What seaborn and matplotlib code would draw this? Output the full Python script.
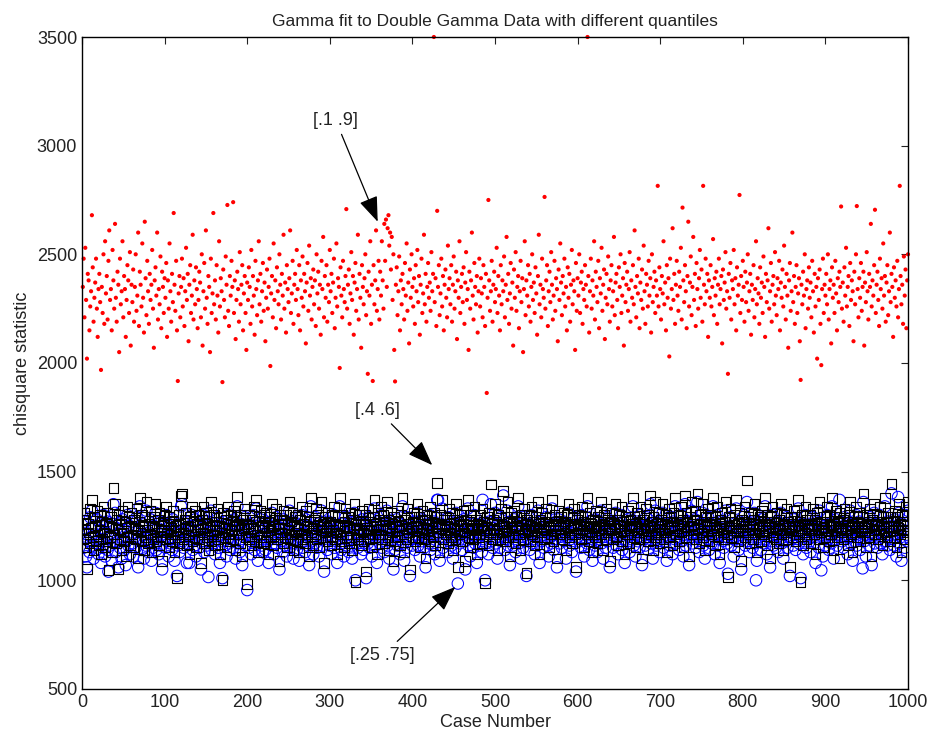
import numpy as np
import seaborn as sns
import matplotlib.pyplot as plt

# chisquare statistic per case, one list per quantile pair (cases 1..1000)
red_q10_90 = [
    2350, 2480, 2210, 2530, 2290, 2020, 2410, 2380, 2150, 2260, 2330, 2680, 2440, 2190, 2300, 2370, 2480, 2250, 2120, 2340,
    2410, 2280, 1968, 2350, 2230, 2500, 2180, 2560, 2320, 2400, 2200, 2470, 2610, 2290, 2340, 2150, 2520, 2380, 2250, 2640,
    2300, 2190, 2420, 2360, 2050, 2480, 2270, 2330, 2560, 2210, 2400, 2340, 2120, 2290, 2450, 2380, 2230, 2510, 2080, 2360,
    2280, 2430, 2190, 2350, 2500, 2240, 2310, 2600, 2170, 2420, 2360, 2260, 2550, 2300, 2140, 2650, 2390, 2220, 2470, 2330,
    2180, 2410, 2290, 2360, 2520, 2250, 2070, 2380, 2440, 2310, 2600, 2200, 2340, 2270, 2490, 2160, 2420, 2350, 2230, 2390,
    2300, 2460, 2120, 2380, 2250, 2550, 2330, 2190, 2410, 2280, 2690, 2360, 2240, 2470, 2150, 1917, 2320, 2400, 2210, 2350,
    2480, 2260, 2390, 2170, 2330, 2530, 2290, 2410, 2100, 2360, 2450, 2230, 2310, 2590, 2200, 2380, 2270, 2440, 2340, 2160,
    2290, 2420, 2370, 2210, 2500, 2080, 2330, 2460, 2250, 2610, 2300, 2180, 2400, 2350, 2050, 2480, 2230, 2320, 2690, 2270,
    2380, 2200, 2450, 2310, 2140, 2560, 2260, 2390, 2330, 1912, 2430, 2290, 2210, 2490, 2360, 2727, 2240, 2170, 2400, 2310,
    2470, 2350, 2740, 2230, 2380, 2110, 2290, 2420, 2340, 2190, 2510, 2270, 2360, 2450, 2150, 2320, 2400, 2230, 2060, 2370,
    2290, 2440, 2350, 2180, 2520, 2260, 2400, 2310, 2130, 2470, 2340, 2220, 2380, 2560, 2270, 2410, 2190, 2330, 2460, 2240,
    2370, 2100, 2300, 2430, 2250, 2350, 2480, 1986, 2320, 2400, 2210, 2550, 2290, 2380, 2160, 2440, 2330, 2270, 2500, 2360,
    2200, 2410, 2310, 2590, 2250, 2370, 2140, 2450, 2340, 2280, 2390, 2610, 2230, 2320, 2470, 2180, 2360, 2410, 2290, 2520,
    2340, 2220, 2450, 2150, 2380, 2300, 2490, 2260, 2410, 2330, 2090, 2370, 2460, 2240, 2540, 2310, 2390, 2200, 2350, 2430,
    2270, 2380, 2170, 2500, 2320, 2420, 2250, 2360, 2130, 2470, 2340, 2580, 2210, 2400, 2300, 2450, 2190, 2360, 2280, 2520,
    2330, 2410, 2230, 2370, 2480, 2160, 2300, 2550, 2260, 2390, 2350, 1977, 2440, 2310, 2210, 2470, 2340, 2280, 2400, 2708,
    2250, 2360, 2430, 2180, 2320, 2510, 2290, 2400, 2130, 2370, 2460, 2240, 2340, 2590, 2200, 2410, 2300, 2070, 2450, 2350,
    2270, 2390, 2500, 2220, 2330, 1950, 2420, 2310, 2560, 2180, 2360, 1917, 2450, 2270, 2380, 2610, 2240, 2340, 2470, 2200,
    2420, 2310, 2560, 2380, 2250, 2640, 2470, 2660, 2350, 2620, 2680, 2540, 2600, 2430, 2580, 2290, 2500, 2060, 1915, 2360,
    2440, 2220, 2330, 2490, 2150, 2380, 2270, 2410, 2340, 2200, 2460, 2310, 2550, 2240, 2370, 2090, 2430, 2300, 2500, 2350,
    2260, 2390, 2180, 2450, 2330, 2520, 2280, 2400, 2130, 2360, 2480, 2230, 2320, 2590, 2270, 2410, 2190, 2350, 2460, 2300,
    2370, 2240, 2510, 2330, 2410, 3500, 2280, 2390, 2170, 2700, 2350, 2450, 2220, 2320, 2480, 2260, 2400, 2150, 2360, 2430,
    2300, 2210, 2540, 2340, 2390, 2270, 2450, 2190, 2360, 2490, 2250, 2330, 2420, 2110, 2380, 2300, 2560, 2230, 2350, 2410,
    2280, 2440, 2180, 2370, 2510, 2290, 2340, 2060, 2420, 2250, 2380, 2600, 2310, 2200, 2460, 2350, 2270, 2400, 2140, 2330,
    2480, 2260, 2390, 2320, 2210, 2450, 2350, 2170, 2410, 1862, 2300, 2750, 2380, 2240, 2330, 2470, 2190, 2360, 2420, 2280,
    2340, 2530, 2230, 2400, 2310, 2150, 2450, 2270, 2380, 2330, 2490, 2210, 2360, 2580, 2290, 2410, 2180, 2320, 2460, 2250,
    2370, 2080, 2430, 2300, 2510, 2240, 2350, 2400, 2160, 2330, 2470, 2280, 2390, 2050, 2340, 2560, 2220, 2380, 2310, 2450,
    2260, 2410, 2190, 2350, 2500, 2290, 2370, 2230, 2440, 2320, 2130, 2400, 2590, 2270, 2360, 2210, 2480, 2340, 2300, 2764,
    2250, 2380, 2450, 2170, 2330, 2420, 2280, 2510, 2360, 2200, 2310, 2470, 2240, 2390, 2340, 2100, 2430, 2290, 2550, 2370,
    2220, 2400, 2320, 2480, 2260, 2350, 2150, 2440, 2300, 2410, 2190, 2360, 2520, 2270, 2380, 2330, 2060, 2460, 2240, 2390,
    2310, 2500, 2230, 2370, 2420, 2180, 2340, 2290, 2450, 2360, 2260, 3500, 2400, 2140, 2330, 2480, 2250, 2380, 2310, 2560,
    2200, 2420, 2350, 2280, 2470, 2160, 2390, 2320, 2530, 2240, 2360, 2430, 2110, 2300, 2410, 2270, 2490, 2340, 2190, 2380,
    2450, 2260, 2330, 2580, 2220, 2370, 2410, 2290, 2160, 2440, 2350, 2500, 2230, 2310, 2390, 2080, 2460, 2280, 2360, 2420,
    2240, 2340, 2510, 2190, 2380, 2300, 2450, 2270, 2610, 2350, 2210, 2400, 2320, 2480, 2160, 2370, 2290, 2430, 2250, 2540,
    2330, 2180, 2410, 2360, 2260, 2470, 2310, 2390, 2140, 2500, 2280, 2350, 2420, 2230, 2380, 2310, 2815, 2260, 2440, 2340,
    2200, 2400, 2320, 2560, 2270, 2370, 2150, 2450, 2300, 2390, 2030, 2480, 2250, 2340, 2620, 2290, 2410, 2180, 2360, 2470,
    2310, 2240, 2420, 2350, 2530, 2200, 2715, 2380, 2280, 2450, 2330, 2160, 2400, 2650, 2260, 2370, 2490, 2220, 2350, 2580,
    2290, 2410, 2170, 2460, 2340, 2250, 2390, 2520, 2300, 2430, 2190, 2815, 2360, 2270, 2480, 2330, 2410, 2120, 2380, 2300,
    2450, 2260, 2350, 2570, 2220, 2390, 2310, 2420, 2180, 2360, 2480, 2270, 2340, 2400, 2090, 2430, 2290, 2370, 2510, 2250,
    2330, 1950, 2410, 2300, 2460, 2200, 2380, 2340, 2520, 2270, 2390, 2150, 2440, 2310, 2360, 2773, 2230, 2400, 2290, 2470,
    2350, 2190, 2420, 2280, 2370, 2500, 2240, 2330, 2410, 2130, 2360, 2290, 2450, 2210, 2340, 2560, 2270, 2390, 2320, 2180,
    2440, 2300, 2370, 2230, 2490, 2350, 2120, 2410, 2280, 2380, 2620, 2250, 2330, 2460, 2190, 2360, 2400, 2270, 2510, 2310,
    2220, 2390, 2340, 2470, 2150, 2370, 2300, 2430, 2260, 2540, 2350, 2200, 2410, 2310, 2070, 2380, 2460, 2240, 2330, 2600,
    2280, 2400, 2180, 2350, 2450, 2230, 2320, 2390, 2100, 1922, 2360, 2270, 2420, 2310, 2500, 2160, 2340, 2380, 2250, 2440,
    2300, 2370, 2210, 2470, 2330, 2140, 2410, 2260, 2350, 2020, 2390, 2290, 2430, 2180, 1990, 2340, 2480, 2230, 2360, 2310,
    2410, 2270, 2500, 2200, 2340, 2380, 2090, 2440, 2300, 2360, 2230, 2470, 2320, 2150, 2390, 2280, 2420, 2350, 2720, 2250,
    2370, 2190, 2440, 2310, 2530, 2260, 2350, 2400, 2170, 2460, 2290, 2380, 2330, 2100, 2420, 2270, 2500, 2722, 2340, 2210,
    2390, 2300, 2460, 2240, 2350, 2420, 2080, 2370, 2280, 2510, 2330, 2200, 2410, 2350, 2640, 2260, 2380, 2310, 2450, 2705,
    2230, 2360, 2420, 2290, 2170, 2480, 2340, 2390, 2250, 2550, 2310, 2400, 2190, 2370, 2450, 2220, 2330, 2600, 2280, 2410,
    2350, 2120, 2440, 2300, 2380, 2260, 2470, 2210, 2340, 2815, 2400, 2270, 2360, 2180, 2490, 2310, 2430, 2160, 2380, 2500,
]

black_q40_60 = [
    1280, 1190, 1310, 1230, 1150, 1052, 1260, 1220, 1170, 1330, 1240, 1370, 1200, 1140, 1290, 1250, 1180, 1320, 1210, 1160,
    1230, 1300, 1120, 1270, 1190, 1340, 1220, 1150, 1260, 1310, 1180, 1047, 1250, 1200, 1290, 1130, 1240, 1425, 1210, 1350,
    1170, 1280, 1230, 1052, 1300, 1190, 1260, 1140, 1320, 1220, 1180, 1270, 1110, 1240, 1340, 1200, 1290, 1160, 1250, 1310,
    1210, 1150, 1280, 1240, 1190, 1330, 1230, 1100, 1270, 1380, 1220, 1180, 1300, 1250, 1140, 1290, 1200, 1360, 1230, 1170,
    1260, 1210, 1320, 1130, 1250, 1190, 1290, 1240, 1350, 1180, 1220, 1280, 1160, 1310, 1200, 1250, 1090, 1270, 1230, 1300,
    1190, 1340, 1220, 1260, 1150, 1290, 1210, 1240, 1180, 1320, 1270, 1130, 1230, 1250, 1010, 1200, 1300, 1170, 1260, 1388,
    1400, 1220, 1190, 1280, 1240, 1310, 1160, 1250, 1210, 1120, 1290, 1230, 1340, 1180, 1270, 1200, 1320, 1150, 1260, 1230,
    1300, 1190, 1250, 1080, 1280, 1220, 1340, 1170, 1240, 1310, 1200, 1260, 1140, 1290, 1230, 1360, 1180, 1250, 1210, 1300,
    1160, 1270, 1230, 1330, 1190, 1250, 1120, 1290, 1220, 1000, 1310, 1240, 1200, 1280, 1150, 1260, 1340, 1210, 1180, 1300,
    1230, 1270, 1190, 1320, 1250, 1140, 1290, 1383, 1210, 1260, 1170, 1300, 1230, 1110, 1280, 1240, 1330, 1200, 1260, 983,
    1250, 1190, 1300, 1220, 1160, 1280, 1240, 1340, 1180, 1270, 1370, 1210, 1130, 1290, 1230, 1320, 1200, 1250, 1170, 1300,
    1240, 1180, 1310, 1220, 1270, 1120, 1290, 1230, 1200, 1350, 1250, 1160, 1280, 1210, 1330, 1190, 1260, 1240, 1090, 1300,
    1220, 1280, 1170, 1320, 1240, 1200, 1300, 1150, 1260, 1230, 1360, 1190, 1270, 1210, 1310, 1140, 1250, 1290, 1220, 1180,
    1300, 1240, 1130, 1280, 1210, 1340, 1190, 1260, 1230, 1170, 1320, 1250, 1200, 1290, 1110, 1270, 1380, 1220, 1240, 1160,
    1280, 1210, 1330, 1190, 1250, 1300, 1150, 1270, 1230, 1360, 1200, 1260, 1080, 1290, 1220, 1240, 1180, 1310, 1250, 1200,
    1270, 1160, 1300, 1230, 1340, 1190, 1260, 1220, 1120, 1290, 1250, 1380, 1210, 1180, 1300, 1240, 1150, 1270, 1330, 1200,
    1250, 1290, 1170, 1230, 1310, 1200, 1140, 1280, 1240, 1350, 993, 1260, 1210, 1190, 1300, 1230, 1270, 1160, 1320, 1220,
    1180, 1260, 1300, 1040, 1240, 1210, 1330, 1190, 1270, 1230, 1150, 1290, 1250, 1370, 1200, 1260, 1120, 1310, 1230, 1280,
    1210, 1340, 1190, 1250, 1300, 1170, 1270, 1230, 1360, 1200, 1280, 1140, 1240, 1310, 1220, 1260, 1090, 1290, 1180, 1250,
    1320, 1200, 1270, 1230, 1160, 1300, 1250, 1380, 1210, 1130, 1280, 1240, 1190, 1330, 1260, 1220, 1050, 1290, 1240, 1200,
    1270, 1310, 1180, 1250, 1230, 1350, 1200, 1290, 1150, 1260, 1220, 1320, 1240, 1190, 1280, 1100, 1300, 1230, 1260, 1210,
    1340, 1180, 1270, 1240, 1200, 1310, 1160, 1250, 1290, 1447, 1220, 1260, 1130, 1300, 1240, 1370, 1190, 1280, 1230, 1210,
    1290, 1250, 1170, 1330, 1220, 1260, 1200, 1310, 1140, 1280, 1240, 1190, 1350, 1230, 1060, 1270, 1210, 1300, 1250, 1180,
    1260, 1320, 1220, 1090, 1280, 1240, 1370, 1200, 1270, 1150, 1300, 1230, 1250, 1190, 1340, 1210, 1280, 1120, 1260, 1240,
    1200, 1300, 1250, 1170, 1330, 1230, 1270, 987, 1210, 1290, 1240, 1160, 1310, 1220, 1440, 1260, 1190, 1280, 1230, 1350,
    1210, 1270, 1140, 1300, 1240, 1190, 1330, 1260, 1220, 1410, 1250, 1180, 1290, 1230, 1360, 1200, 1270, 1110, 1310, 1240,
    1260, 1200, 1320, 1230, 1170, 1290, 1250, 1380, 1210, 1270, 1140, 1300, 1240, 1190, 1330, 1220, 1260, 1034, 1280, 1230,
    1300, 1180, 1250, 1340, 1210, 1270, 1230, 1160, 1290, 1240, 1200, 1360, 1260, 1120, 1280, 1220, 1310, 1250, 1190, 1270,
    1230, 1330, 1200, 1260, 1150, 1290, 1240, 1210, 1370, 1250, 1180, 1300, 1230, 1270, 1100, 1260, 1320, 1210, 1240, 1290,
    1190, 1250, 1310, 1220, 1270, 1140, 1300, 1240, 1350, 1200, 1260, 1230, 1170, 1290, 1250, 1330, 1210, 1060, 1280, 1240,
    1300, 1220, 1260, 1190, 1340, 1230, 1270, 1150, 1290, 1250, 1210, 1380, 1240, 1180, 1310, 1260, 1220, 1130, 1280, 1240,
    1200, 1320, 1250, 1170, 1290, 1230, 1270, 1360, 1210, 1260, 1140, 1300, 1240, 1190, 1330, 1220, 1280, 1250, 1090, 1270,
    1230, 1310, 1190, 1260, 1240, 1350, 1200, 1280, 1160, 1300, 1250, 1220, 1340, 1180, 1270, 1230, 1120, 1290, 1250, 1210,
    1320, 1240, 1170, 1280, 1230, 1260, 1380, 1200, 1290, 1150, 1250, 1310, 1220, 1270, 1190, 1340, 1240, 1100, 1280, 1230,
    1260, 1200, 1330, 1240, 1180, 1300, 1250, 1390, 1210, 1270, 1140, 1290, 1230, 1360, 1200, 1260, 1220, 1310, 1170, 1250,
    1280, 1230, 1350, 1190, 1260, 1220, 1300, 1130, 1270, 1240, 1330, 1200, 1290, 1250, 1160, 1310, 1230, 1380, 1210, 1270,
    1240, 1300, 1180, 1260, 1340, 1220, 1280, 1150, 1250, 1390, 1200, 1310, 1270, 1230, 1110, 1290, 1250, 1360, 1210, 1260,
    1230, 1320, 1190, 1280, 1400, 1240, 1170, 1300, 1260, 1220, 1350, 1200, 1270, 1140, 1290, 1250, 1230, 1330, 1180, 1260,
    1300, 1210, 1270, 1380, 1240, 1160, 1290, 1230, 1340, 1200, 1260, 1120, 1280, 1250, 1310, 1220, 1190, 1270, 1360, 1240,
    1210, 1015, 1290, 1250, 1330, 1200, 1270, 1230, 1150, 1300, 1240, 1370, 1220, 1260, 1180, 1310, 1250, 1090, 1280, 1230,
    1270, 1340, 1200, 1260, 1460, 1220, 1290, 1170, 1250, 1310, 1230, 1190, 1280, 1350, 1210, 1260, 1130, 1300, 1240, 1220,
    1290, 1180, 1320, 1250, 1210, 1270, 1380, 1230, 1160, 1300, 1240, 1260, 1100, 1290, 1220, 1340, 1200, 1270, 1250, 1190,
    1310, 1240, 1170, 1280, 1230, 1350, 1210, 1260, 1140, 1300, 1250, 1220, 1330, 1190, 1270, 1240, 1060, 1290, 1230, 1260,
    1200, 1320, 1250, 1180, 1290, 1230, 1370, 1210, 1270, 993, 1240, 1300, 1160, 1260, 1220, 1340, 1190, 1280, 1250, 1230,
    1300, 1170, 1260, 1240, 1330, 1210, 1280, 1120, 1250, 1310, 1230, 1190, 1360, 1270, 1220, 1260, 1150, 1290, 1240, 1200,
    1270, 1340, 1230, 1180, 1300, 1250, 1210, 1380, 1260, 1140, 1290, 1230, 1320, 1200, 1270, 1250, 1100, 1310, 1240, 1220,
    1280, 1190, 1330, 1250, 1230, 1270, 1160, 1300, 1240, 1360, 1210, 1260, 1130, 1290, 1250, 1220, 1340, 1200, 1270, 1240,
    1310, 1180, 1260, 1230, 1290, 1400, 1220, 1250, 1150, 1300, 1240, 1270, 1200, 1330, 1260, 1110, 1280, 1230, 1350, 1210,
    1250, 1300, 1190, 1270, 1230, 1340, 1210, 1260, 1160, 1290, 1240, 1380, 1220, 1270, 1200, 1310, 1250, 1180, 1290, 1443,
    1230, 1270, 1200, 1320, 1250, 1150, 1290, 1240, 1350, 1210, 1260, 1130, 1300, 1230, 1270, 1190, 1340, 1250, 1220, 1360,
]

blue_q25_75 = [
    1230, 1150, 1270, 1190, 1110, 1060, 1210, 1180, 1130, 1290, 1200, 1320, 1160, 1100, 1250, 1210, 1140, 1280, 1170, 1120,
    1190, 1260, 1080, 1230, 1150, 1300, 1180, 1110, 1220, 1270, 1140, 1040, 1210, 1160, 1250, 1090, 1200, 1350, 1170, 1310,
    1130, 1240, 1190, 1060, 1260, 1150, 1220, 1100, 1280, 1180, 1140, 1230, 1070, 1200, 1300, 1160, 1250, 1120, 1210, 1270,
    1170, 1110, 1240, 1200, 1150, 1290, 1190, 1060, 1230, 1340, 1180, 1140, 1260, 1210, 1100, 1250, 1160, 1320, 1190, 1130,
    1220, 1170, 1280, 1090, 1210, 1150, 1250, 1200, 1310, 1140, 1180, 1240, 1120, 1270, 1160, 1210, 1050, 1230, 1190, 1260,
    1150, 1300, 1180, 1220, 1110, 1250, 1170, 1200, 1140, 1280, 1230, 1090, 1190, 1210, 1020, 1160, 1260, 1130, 1220, 1340,
    1350, 1180, 1150, 1240, 1200, 1270, 1080, 1210, 1170, 1080, 1250, 1190, 1300, 1140, 1230, 1160, 1280, 1110, 1220, 1190,
    1260, 1150, 1210, 1050, 1240, 1180, 1300, 1130, 1200, 1270, 1160, 1220, 1015, 1250, 1190, 1320, 1140, 1210, 1170, 1260,
    1120, 1230, 1190, 1290, 1150, 1210, 1080, 1250, 1180, 1010, 1270, 1200, 1160, 1240, 1110, 1220, 1300, 1170, 1140, 1260,
    1190, 1230, 1150, 1280, 1210, 1100, 1250, 1340, 1170, 1220, 1130, 1260, 1190, 1070, 1240, 1200, 1290, 1160, 1220, 955,
    1210, 1150, 1260, 1180, 1120, 1240, 1200, 1300, 1140, 1230, 1330, 1170, 1090, 1250, 1190, 1280, 1160, 1210, 1130, 1260,
    1200, 1140, 1270, 1180, 1230, 1080, 1250, 1190, 1160, 1310, 1210, 1120, 1240, 1170, 1290, 1150, 1220, 1200, 1050, 1260,
    1180, 1240, 1130, 1280, 1200, 1160, 1260, 1110, 1220, 1190, 1320, 1150, 1230, 1170, 1270, 1100, 1210, 1250, 1180, 1140,
    1260, 1200, 1090, 1240, 1170, 1300, 1150, 1220, 1190, 1130, 1280, 1210, 1160, 1250, 1070, 1230, 1340, 1180, 1200, 1120,
    1240, 1170, 1290, 1150, 1210, 1260, 1110, 1230, 1190, 1320, 1160, 1220, 1040, 1250, 1180, 1200, 1140, 1270, 1210, 1160,
    1230, 1120, 1260, 1190, 1300, 1150, 1220, 1180, 1080, 1250, 1210, 1340, 1170, 1140, 1260, 1200, 1110, 1230, 1290, 1160,
    1210, 1250, 1130, 1190, 1270, 1160, 1100, 1240, 1200, 1310, 1000, 1220, 1170, 1150, 1260, 1190, 1230, 1120, 1280, 1180,
    1140, 1220, 1260, 1010, 1200, 1170, 1290, 1150, 1230, 1190, 1110, 1250, 1210, 1330, 1160, 1220, 1080, 1270, 1190, 1240,
    1170, 1300, 1150, 1210, 1260, 1130, 1230, 1190, 1320, 1160, 1240, 1100, 1200, 1270, 1180, 1220, 1050, 1250, 1140, 1210,
    1280, 1160, 1230, 1190, 1120, 1260, 1210, 1340, 1170, 1090, 1240, 1200, 1150, 1290, 1220, 1180, 1020, 1250, 1200, 1160,
    1230, 1270, 1140, 1210, 1190, 1310, 1160, 1250, 1110, 1220, 1180, 1280, 1200, 1150, 1240, 1060, 1260, 1190, 1220, 1170,
    1300, 1140, 1230, 1200, 1160, 1270, 1120, 1210, 1250, 1370, 1370, 1220, 1090, 1260, 1200, 1330, 1150, 1240, 1190, 1170,
    1250, 1210, 1130, 1290, 1180, 1220, 1160, 1270, 1100, 1240, 1200, 1150, 1310, 1190, 985, 1230, 1170, 1260, 1210, 1140,
    1220, 1280, 1180, 1050, 1240, 1200, 1330, 1160, 1230, 1110, 1260, 1190, 1210, 1150, 1300, 1170, 1240, 1080, 1220, 1200,
    1160, 1260, 1210, 1130, 1370, 1190, 1230, 1000, 1170, 1250, 1200, 1120, 1270, 1180, 1350, 1220, 1150, 1240, 1190, 1310,
    1170, 1230, 1100, 1260, 1200, 1150, 1290, 1220, 1180, 1390, 1210, 1140, 1250, 1190, 1320, 1160, 1230, 1070, 1270, 1200,
    1220, 1160, 1280, 1190, 1130, 1250, 1210, 1340, 1170, 1230, 1100, 1260, 1200, 1150, 1290, 1180, 1220, 1020, 1240, 1190,
    1260, 1140, 1210, 1300, 1170, 1230, 1190, 1120, 1250, 1200, 1160, 1320, 1220, 1080, 1240, 1180, 1270, 1210, 1150, 1230,
    1190, 1290, 1160, 1220, 1110, 1250, 1200, 1170, 1330, 1210, 1140, 1260, 1190, 1230, 1060, 1220, 1280, 1170, 1200, 1250,
    1150, 1210, 1270, 1180, 1230, 1100, 1260, 1200, 1310, 1160, 1220, 1190, 1130, 1250, 1210, 1290, 1170, 1040, 1240, 1200,
    1260, 1180, 1220, 1150, 1300, 1190, 1230, 1110, 1250, 1210, 1170, 1340, 1200, 1140, 1270, 1220, 1180, 1090, 1240, 1200,
    1160, 1280, 1210, 1130, 1250, 1190, 1230, 1320, 1170, 1220, 1100, 1260, 1200, 1150, 1290, 1180, 1240, 1210, 1060, 1230,
    1190, 1270, 1150, 1220, 1200, 1310, 1160, 1240, 1120, 1260, 1210, 1180, 1300, 1140, 1230, 1190, 1080, 1250, 1210, 1170,
    1280, 1200, 1130, 1240, 1190, 1220, 1340, 1160, 1250, 1110, 1210, 1270, 1180, 1230, 1150, 1300, 1200, 1070, 1240, 1190,
    1220, 1160, 1290, 1200, 1140, 1260, 1210, 1350, 1170, 1230, 1100, 1250, 1190, 1320, 1160, 1220, 1180, 1270, 1130, 1210,
    1240, 1190, 1310, 1150, 1220, 1180, 1260, 1090, 1230, 1200, 1290, 1160, 1250, 1210, 1120, 1270, 1190, 1340, 1170, 1230,
    1200, 1260, 1140, 1220, 1300, 1180, 1240, 1110, 1210, 1350, 1160, 1270, 1230, 1190, 1070, 1250, 1210, 1320, 1170, 1220,
    1190, 1280, 1150, 1240, 1360, 1200, 1130, 1260, 1220, 1180, 1310, 1160, 1230, 1100, 1250, 1210, 1190, 1290, 1140, 1220,
    1260, 1170, 1230, 1340, 1200, 1120, 1250, 1190, 1300, 1160, 1220, 1080, 1240, 1210, 1270, 1180, 1150, 1230, 1320, 1200,
    1170, 1030, 1250, 1210, 1290, 1160, 1230, 1190, 1110, 1260, 1200, 1330, 1180, 1220, 1140, 1270, 1210, 1050, 1240, 1190,
    1230, 1300, 1160, 1220, 1360, 1180, 1250, 1130, 1210, 1270, 1190, 1150, 1240, 1310, 1170, 1000, 1090, 1260, 1200, 1180,
    1250, 1140, 1280, 1210, 1170, 1230, 1340, 1190, 1120, 1260, 1200, 1220, 1060, 1250, 1180, 1300, 1160, 1230, 1210, 1150,
    1270, 1200, 1130, 1240, 1190, 1310, 1170, 1220, 1100, 1260, 1210, 1180, 1290, 1150, 1230, 1200, 1020, 1250, 1190, 1220,
    1160, 1280, 1210, 1140, 1250, 1190, 1330, 1170, 1230, 1010, 1200, 1260, 1120, 1220, 1180, 1300, 1150, 1240, 1210, 1190,
    1260, 1130, 1220, 1200, 1290, 1170, 1240, 1080, 1210, 1270, 1190, 1150, 1320, 1230, 1046, 1220, 1110, 1250, 1200, 1160,
    1230, 1300, 1190, 1140, 1260, 1210, 1170, 1340, 1220, 1100, 1250, 1190, 1280, 1160, 1230, 1210, 1370, 1270, 1200, 1180,
    1240, 1150, 1290, 1210, 1190, 1230, 1120, 1260, 1200, 1320, 1170, 1220, 1090, 1250, 1210, 1180, 1300, 1160, 1230, 1200,
    1270, 1140, 1220, 1190, 1055, 1360, 1180, 1210, 1110, 1260, 1200, 1230, 1160, 1290, 1220, 1070, 1240, 1190, 1310, 1170,
    1210, 1260, 1150, 1230, 1190, 1300, 1170, 1220, 1120, 1250, 1200, 1340, 1180, 1230, 1160, 1270, 1210, 1140, 1250, 1400,
    1190, 1230, 1160, 1280, 1210, 1110, 1250, 1383, 1310, 1170, 1220, 1090, 1260, 1190, 1230, 1150, 1300, 1210, 1180, 1320,
]

x_ticks = [0, 100, 200, 300, 400, 500, 600, 700, 800, 900, 1000]
y_ticks = [500, 1000, 1500, 2000, 2500, 3000, 3500]

sns.set_style("white")
plt.rcParams['font.family'] = ['Liberation Sans', 'DejaVu Sans']

fig = plt.figure(figsize=(9.36, 7.4), dpi=100)
ax = fig.add_axes([0.0876, 0.069, 0.8825, 0.881])

sns.scatterplot(x=np.arange(1, len(red_q10_90) + 1), y=red_q10_90, ax=ax,
                marker='o', s=9, color='red', edgecolor='none', clip_on=False)
# circles first, squares drawn over them
sns.scatterplot(x=np.arange(1, len(blue_q25_75) + 1), y=blue_q25_75, ax=ax,
                marker='o', s=68, facecolor='none', edgecolor='blue',
                linewidth=0.75)
sns.scatterplot(x=np.arange(1, len(black_q40_60) + 1), y=black_q40_60, ax=ax,
                marker='s', s=48, facecolor='none', edgecolor='black',
                linewidth=0.8)

ax.set_xlim(0, 1000)
ax.set_ylim(500, 3500)
ax.set_xticks(x_ticks)
ax.set_yticks(y_ticks)
ax.tick_params(direction='in', length=5, width=0.8, labelsize=13,
               top=True, right=True, colors='#222222')
for sp in ax.spines.values():
    sp.set_color('black')
    sp.set_linewidth(1.0)

ax.set_title('Gamma fit to Double Gamma Data with different quantiles',
             fontsize=12.5, color='#222222', pad=8)
ax.set_xlabel('Case Number', fontsize=13, color='#222222', labelpad=2)
ax.set_ylabel('chisquare statistic', fontsize=13, color='#222222', labelpad=4)

arrow = dict(arrowstyle='-|>,head_length=1.2,head_width=0.45',
             color='black', lw=0.9, shrinkA=2, shrinkB=0)
ax.annotate('[.1 .9]', xy=(358, 2650), xytext=(307, 3118), ha='center',
            va='center', fontsize=13, color='#222222', arrowprops=arrow)
ax.annotate('[.4 .6]', xy=(424, 1530), xytext=(358, 1783), ha='center',
            va='center', fontsize=13, color='#222222', arrowprops=arrow)
ax.annotate('[.25 .75]', xy=(452, 970), xytext=(364, 656), ha='center',
            va='center', fontsize=13, color='#222222', arrowprops=arrow)

plt.savefig('out.png', dpi=100)
plt.close()
